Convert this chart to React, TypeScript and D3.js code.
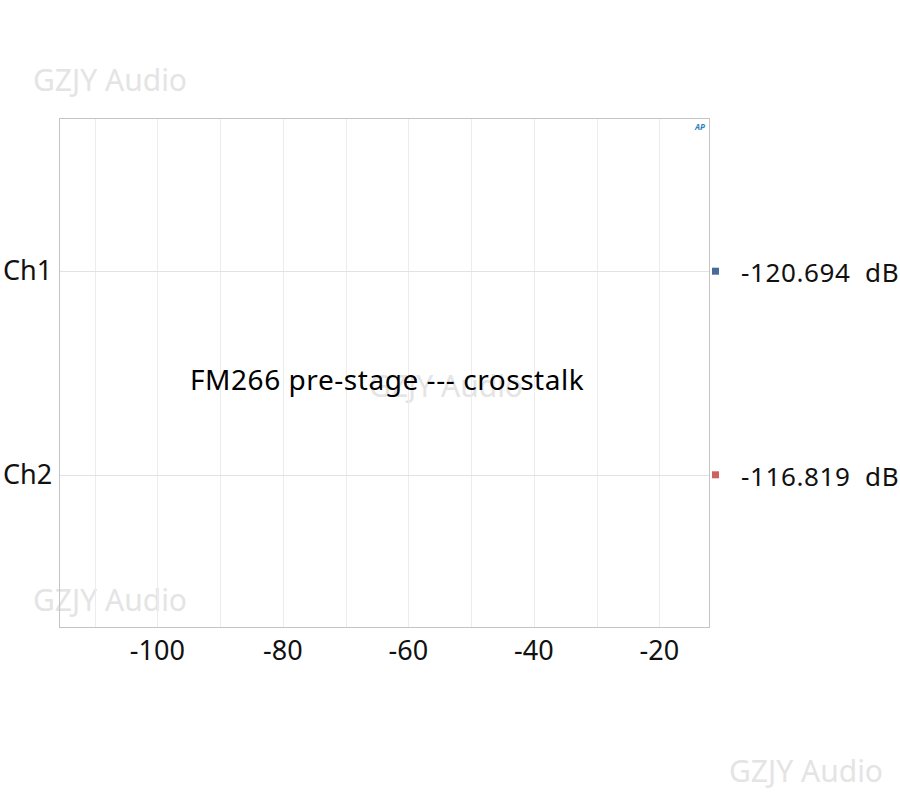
import { useEffect, useRef } from "react"
import * as d3 from "d3"

const channels = ["Ch1", "Ch2"]
const crosstalkDb = [-120.694, -116.819]
const channelColors = ["#4a6a9a", "#d0605e"]
const xDomain = [-115.6, -12]
const gridTicks = [-110, -100, -90, -80, -70, -60, -50, -40, -30, -20]
const labelTicks = [-100, -80, -60, -40, -20]
const title = "FM266 pre-stage --- crosstalk"
const watermark = "GZJY Audio"

export default function App() {
  const svgRef = useRef<SVGSVGElement>(null)

  useEffect(() => {
    if (!svgRef.current) return
    const svg = d3.select(svgRef.current)
    svg.selectAll("*").remove()

    const font = "'Noto Sans', 'Open Sans', sans-serif"
    const left = 59.5
    const right = 709.5
    const top = 118.5
    const bottom = 627.5

    const x = d3.scaleLinear().domain(xDomain).range([left, right])
    const y = d3.scalePoint().domain(channels).range([top, bottom]).padding(0.75)

    svg.append("rect").attr("width", 900).attr("height", 800).attr("fill", "#fff")

    // watermarks behind everything
    const marks = [
      [33, 91],
      [33, 611],
      [369, 397],
      [729, 782],
    ]
    svg
      .selectAll("text.wm")
      .data(marks)
      .join("text")
      .attr("class", "wm")
      .attr("x", (d) => d[0])
      .attr("y", (d) => d[1])
      .attr("fill", "#e4e4e4")
      .style("font-family", font)
      .style("font-size", "30px")
      .text(watermark)

    // grid
    svg
      .append("g")
      .selectAll("line")
      .data(gridTicks)
      .join("line")
      .attr("x1", (d) => Math.round(x(d)) + 0.5)
      .attr("x2", (d) => Math.round(x(d)) + 0.5)
      .attr("y1", top)
      .attr("y2", bottom)
      .attr("stroke", "#ececec")
      .attr("stroke-width", 1)

    svg
      .append("g")
      .selectAll("line")
      .data(channels)
      .join("line")
      .attr("x1", left)
      .attr("x2", right)
      .attr("y1", (d) => Math.round(y(d)!) + 0.5)
      .attr("y2", (d) => Math.round(y(d)!) + 0.5)
      .attr("stroke", "#e2e2e2")

    // bars (values fall below the axis minimum, so zero length)
    const bandH = 60
    svg
      .append("g")
      .selectAll("rect")
      .data(crosstalkDb)
      .join("rect")
      .attr("x", left)
      .attr("y", (_, i) => y(channels[i])! - bandH / 2)
      .attr("width", (d) => Math.max(0, x(d) - left))
      .attr("height", bandH)
      .attr("fill", (_, i) => channelColors[i])

    // frame
    svg
      .append("rect")
      .attr("x", left)
      .attr("y", top)
      .attr("width", right - left)
      .attr("height", bottom - top)
      .attr("fill", "none")
      .attr("stroke", "#c4c4c4")

    // AP logo
    svg
      .append("text")
      .attr("x", 700)
      .attr("y", 130)
      .attr("text-anchor", "middle")
      .attr("fill", "#2f7fc0")
      .style("font-family", font)
      .style("font-size", "8px")
      .style("font-weight", "bold")
      .style("font-style", "italic")
      .text("AP")

    // category labels
    svg
      .append("g")
      .selectAll("text")
      .data(channels)
      .join("text")
      .attr("x", 3)
      .attr("y", (d) => y(d)! + 9)
      .attr("fill", "#111")
      .style("font-family", font)
      .style("font-size", "27px")
      .text((d) => d)

    // x tick labels
    svg
      .append("g")
      .selectAll("text")
      .data(labelTicks)
      .join("text")
      .attr("x", (d) => x(d))
      .attr("y", 660)
      .attr("text-anchor", "middle")
      .attr("fill", "#111")
      .style("font-family", font)
      .style("font-size", "27px")
      .text((d) => String(d))

    // legend markers and values
    const legend = svg
      .append("g")
      .selectAll("g")
      .data(crosstalkDb)
      .join("g")
      .attr("transform", (_, i) => `translate(0, ${y(channels[i])})`)

    legend
      .append("rect")
      .attr("x", 712)
      .attr("y", -3.5)
      .attr("width", 7)
      .attr("height", 7)
      .attr("fill", (_, i) => channelColors[i])

    legend
      .append("text")
      .attr("x", 741)
      .attr("y", 11)
      .attr("fill", "#111")
      .style("font-family", font)
      .style("font-size", "26px")
      .style("letter-spacing", "0.6px")
      .style("white-space", "pre")
      .text((d) => `${d.toFixed(3)}  dB`)

    // title
    svg
      .append("text")
      .attr("x", 190)
      .attr("y", 390)
      .attr("fill", "#000")
      .style("font-family", font)
      .style("font-size", "28px")
      .style("letter-spacing", "0.55px")
      .text(title)
  }, [])

  return (
    <svg
      ref={svgRef}
      width={900}
      height={800}
      style={{ position: "absolute", left: 0, top: 0 }}
    ></svg>
  )
}
